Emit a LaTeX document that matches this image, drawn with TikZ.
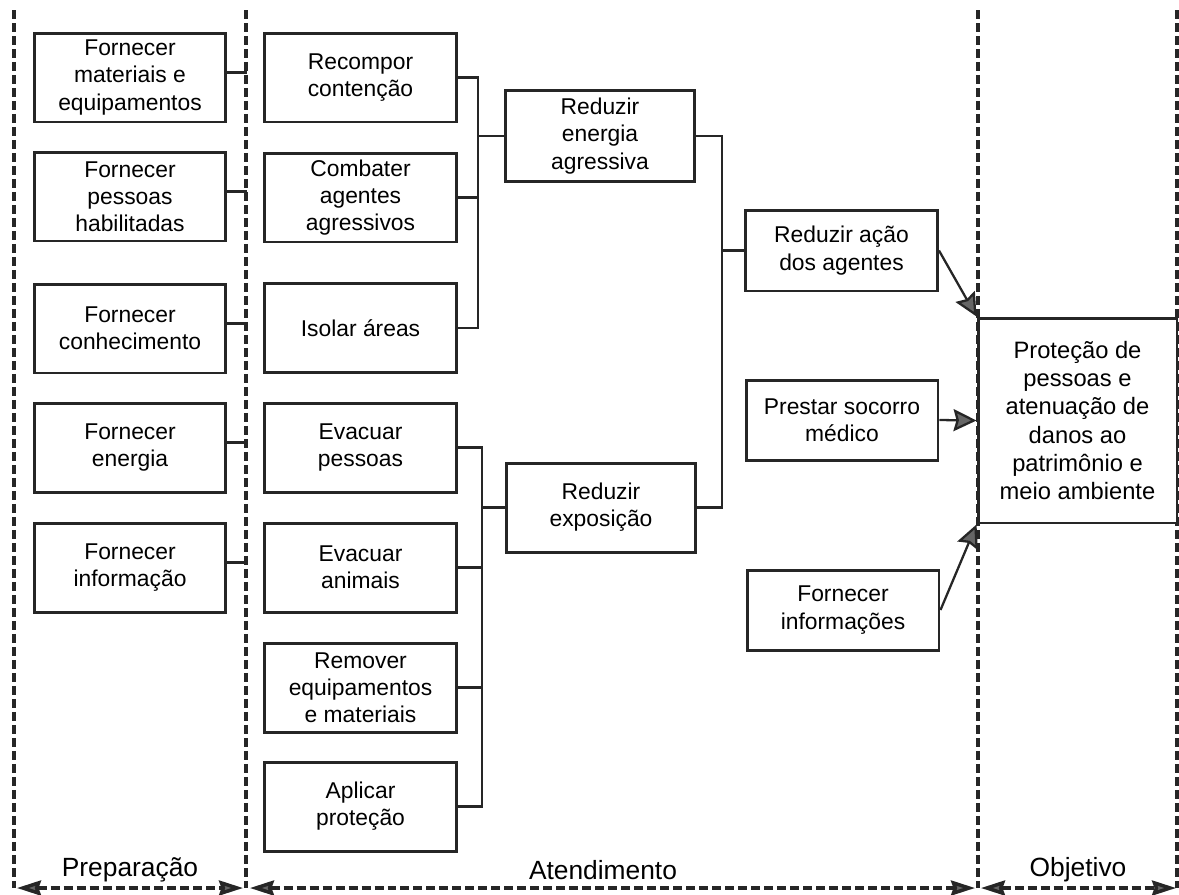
\documentclass[tikz,border=0pt]{standalone}
\usepackage{fontspec}
\setmainfont{Liberation Sans}
\usetikzlibrary{arrows.meta}

\begin{document}
\begin{tikzpicture}[x=0.02cm, y=-0.02cm,
    every node/.style={font=\fontsize{13}{15.5}\selectfont},
    box/.style={rectangle, draw=black!85, fill=white, line width=1.7pt, align=center, minimum width=3.84cm, minimum height=1.78cm, inner sep=2pt},
    link/.style={draw=black!85, line width=1.3pt},
    zone/.style={draw=black!85, line width=2pt, dash pattern=on 0.18cm off 0.08cm},
    label/.style={font=\fontsize{15}{18}\selectfont},
    span/.style={{Stealth[length=0.48cm, width=0.3cm, inset=0.05cm, fill=black!60]}-{Stealth[length=0.48cm, width=0.3cm, inset=0.05cm, fill=black!60]}},
    goal/.style={link, -{Stealth[length=0.46cm, width=0.44cm, inset=0.06cm, fill=black!60]}}]
    \useasboundingbox (0,0) rectangle (1179,894);

    \draw[zone] (14,10) -- (14,888);
    \draw[zone] (246,10) -- (246,888);
    \draw[zone] (978,10) -- (978,888);
    \draw[zone] (1177,10) -- (1177,888);

    \draw[zone, span] (17,888) -- (243,888);
    \draw[zone, span] (250,888) -- (975,888);
    \draw[zone, span] (981,888) -- (1176,888);

    \node (prepLabel) at (130,870) [label] {Preparação};
    \node (atendLabel) at (603,870) [label] {Atendimento};
    \node (objLabel) at (1078,870) [label] {Objetivo};

    \node (materiais) at (130,77.5) [box] {Fornecer\\materiais e\\equipamentos};
    \node (pessoas) at (130,196.5) [box] {Fornecer\\pessoas\\habilitadas};
    \node (conhec) at (130,328.5) [box] {Fornecer\\conhecimento};
    \node (energia) at (130,447.5) [box] {Fornecer\\energia};
    \node (informacao) at (130,567.5) [box] {Fornecer\\informação};

    \foreach \n in {materiais, pessoas, conhec, energia, informacao}
        \draw[link] ([yshift=0.1cm]\n.east) -- ++(20,0);

    \node (recompor) at (360.5,77.5) [box] {Recompor\\contenção};
    \node (combater) at (360.5,197.5) [box] {Combater\\agentes\\agressivos};
    \node (isolar) at (360.5,328) [box] {Isolar áreas};
    \node (evacP) at (360.5,447.5) [box] {Evacuar\\pessoas};
    \node (evacA) at (360.5,567.5) [box] {Evacuar\\animais};
    \node (remover) at (360.5,687.5) [box] {Remover\\equipamentos\\e materiais};
    \node (aplicar) at (360.5,806.5) [box] {Aplicar\\proteção};

    \node (redEnergia) at (600,136) [box, minimum width=3.78cm, minimum height=1.82cm] {Reduzir\\energia\\agressiva};
    \node (redExpo) at (601,507.5) [box, minimum width=3.78cm] {Reduzir\\exposição};

    \coordinate (busTop) at (478,0);
    \coordinate (busLow) at (482,0);
    \draw[link] (recompor.east) -| (busTop |- isolar.east) -- (isolar.east);
    \draw[link] (combater.east) -- (combater.east -| busTop);
    \draw[link] (redEnergia.west) -- (redEnergia.west -| busTop);
    \draw[link] (evacP.east) -| (busLow |- aplicar.east) -- (aplicar.east);
    \draw[link] (evacA.east) -- (evacA.east -| busLow);
    \draw[link] (remover.east) -- (remover.east -| busLow);
    \draw[link] (redExpo.west) -- (redExpo.west -| busLow);

    \node (redAcao) at (841.5,250.5) [box, minimum height=1.62cm] {Reduzir ação\\dos agentes};
    \node (socorro) at (842,420) [box, minimum height=1.6cm] {Prestar socorro\\médico};
    \node (informacoes) at (843,610) [box, minimum height=1.6cm] {Fornecer\\informações};

    \coordinate (busRight) at (722,0);
    \draw[link] (redEnergia.east) -| (busRight |- redExpo.east) -- (redExpo.east);
    \draw[link] (redAcao.west) -- (redAcao.west -| busRight);

    \node (objetivo) at (1077.5,420.5) [box, minimum width=3.98cm, minimum height=4.1cm, font=\fontsize{13.5}{16}\selectfont] {Proteção de\\pessoas e\\atenuação de\\danos ao\\patrimônio e\\meio ambiente};

    \draw[goal] (redAcao.east) -- (objetivo.north west);
    \draw[goal] (socorro.east) -- (objetivo.west);
    \draw[goal] (informacoes.east) -- (objetivo.south west);
\end{tikzpicture}
\end{document}
